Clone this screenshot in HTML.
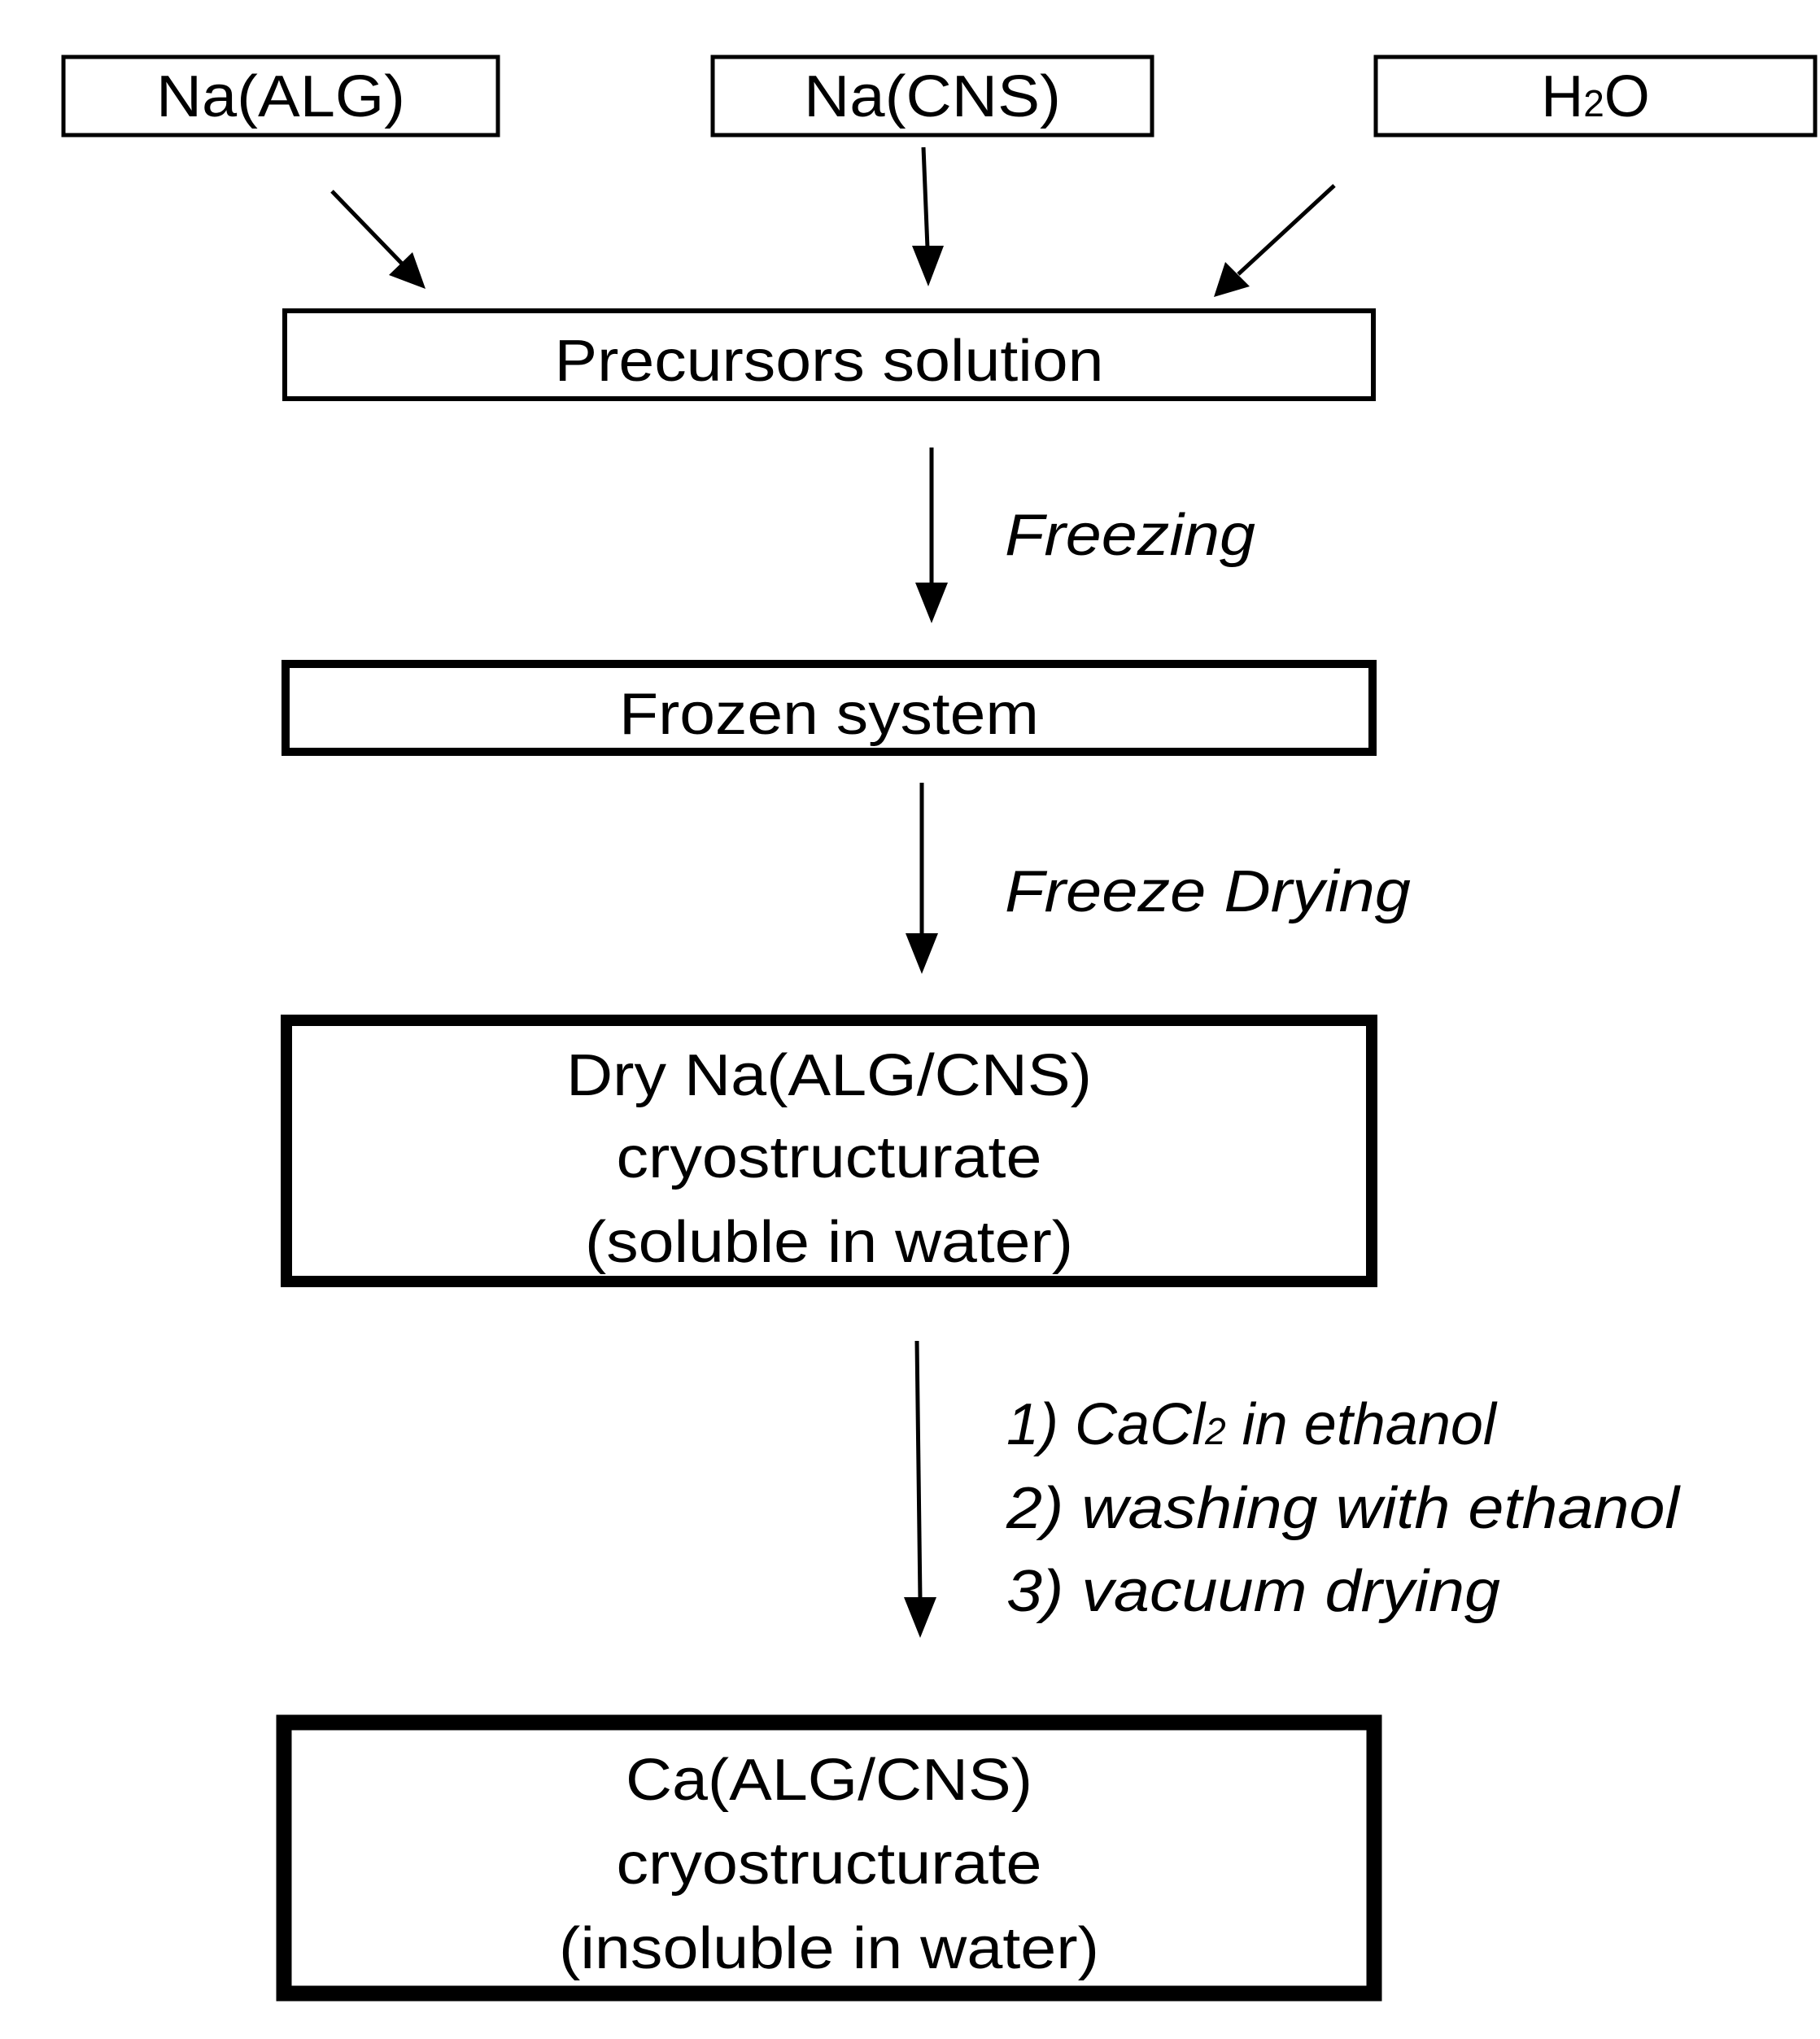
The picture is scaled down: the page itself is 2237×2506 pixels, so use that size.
<!DOCTYPE html>
<html><head><meta charset="utf-8"><style>html,body{margin:0;padding:0;background:#fff}svg{display:block}</style></head>
<body>
<svg width="2237" height="2506" viewBox="0 0 2237 2506" xmlns="http://www.w3.org/2000/svg" font-family="Liberation Sans, Arial, sans-serif">
<rect width="2237" height="2506" fill="#fff"/>
<g fill="none" stroke="#000">
<rect x="78" y="70" width="534" height="96" stroke-width="5"/>
<rect x="876" y="70" width="540" height="96" stroke-width="5"/>
<rect x="1691" y="70" width="540" height="96" stroke-width="5"/>
<rect x="350" y="382" width="1338" height="108" stroke-width="6"/>
<rect x="351" y="816" width="1336" height="108" stroke-width="10"/>
<rect x="352" y="1254" width="1334" height="321" stroke-width="14"/>
<rect x="349" y="2117" width="1340" height="333" stroke-width="19"/>
<g stroke-width="5">
<line x1="408" y1="235" x2="495" y2="325"/>
<line x1="1135" y1="181" x2="1140" y2="305"/>
<line x1="1640" y1="228" x2="1522" y2="337"/>
<line x1="1145" y1="550" x2="1145" y2="718"/>
<line x1="1133" y1="962" x2="1133" y2="1150"/>
<line x1="1127" y1="1648" x2="1131" y2="1966"/>
</g>
</g>
<g fill="#000">
<polygon points="523,355 478,338 507,310"/>
<polygon points="1141,352 1121,302 1160,302"/>
<polygon points="1492,365 1506,322 1536,352"/>
<polygon points="1145,766 1125,716 1165,716"/>
<polygon points="1133,1197 1113,1147 1153,1147"/>
<polygon points="1131,2013 1111,1963 1151,1963"/>
</g>
<g font-size="72" text-anchor="middle" fill="#000">
<text x="345" y="143" textLength="306" lengthAdjust="spacingAndGlyphs">Na(ALG)</text>
<text x="1146" y="143" textLength="316" lengthAdjust="spacingAndGlyphs">Na(CNS)</text>
<text x="1961" y="143">H<tspan font-size="46">2</tspan>O</text>
<text x="1019" y="468" textLength="675" lengthAdjust="spacingAndGlyphs">Precursors solution</text>
<text x="1019" y="902" textLength="516" lengthAdjust="spacingAndGlyphs">Frozen system</text>
<text x="1019" y="1346" textLength="646" lengthAdjust="spacingAndGlyphs">Dry Na(ALG/CNS)</text>
<text x="1019" y="1447" textLength="523" lengthAdjust="spacingAndGlyphs">cryostructurate</text>
<text x="1019" y="1551" textLength="600" lengthAdjust="spacingAndGlyphs">(soluble in water)</text>
<text x="1019" y="2212" textLength="500" lengthAdjust="spacingAndGlyphs">Ca(ALG/CNS)</text>
<text x="1019" y="2315" textLength="523" lengthAdjust="spacingAndGlyphs">cryostructurate</text>
<text x="1019" y="2419" textLength="664" lengthAdjust="spacingAndGlyphs">(insoluble in water)</text>
</g>
<g font-size="72" font-style="italic" fill="#000">
<text x="1235" y="682" textLength="308" lengthAdjust="spacingAndGlyphs">Freezing</text>
<text x="1235" y="1120" textLength="499" lengthAdjust="spacingAndGlyphs">Freeze Drying</text>
<text x="1237" y="1775">1) CaCl<tspan font-size="46">2</tspan> in ethanol</text>
<text x="1237" y="1878" textLength="827" lengthAdjust="spacingAndGlyphs">2) washing with ethanol</text>
<text x="1237" y="1980" textLength="607" lengthAdjust="spacingAndGlyphs">3) vacuum drying</text>
</g>
</svg>
</body></html>
